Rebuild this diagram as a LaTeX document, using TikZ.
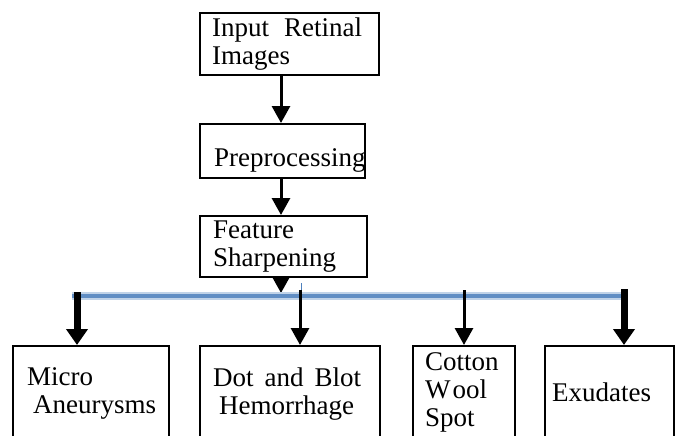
\documentclass[tikz,border=0pt]{standalone}
\usepackage{fontspec}
\setmainfont{Liberation Serif}
\usetikzlibrary{arrows.meta, positioning}
\definecolor{busBlue}{HTML}{4F81BD}

\begin{document}
\begin{tikzpicture}[x=1pt, y=-1pt,
    box/.style={draw, line width=1.8pt, rectangle, inner sep=0pt, anchor=north west},
    txt/.style={anchor=north west, inner sep=0pt, align=left,
      font=\fontsize{27}{28}\selectfont},
    thin arrow/.style={line width=3pt, -{Triangle[width=18pt, length=17pt]}},
    thick arrow/.style={line width=7pt, -{Triangle[width=21pt, length=16pt]}}]
    \clip (0,0) rectangle (675,436);
    % upper chain
    \node[box, minimum width=179pt, minimum height=62pt] (inp) at (199,12) {};
    \node[box, minimum width=165pt, minimum height=54pt] (pre) at (199,123) {};
    \node[box, minimum width=167pt, minimum height=61pt] (fea) at (199,215) {};
    \node[txt] (inpT) at (212,18) {Input\hspace{15pt}Retinal\\Images};
    \node[txt] (preT) at (214,148) {Preprocessing};
    \node[txt] (feaT) at (213,221) {Feature\\Sharpening};
    \draw[thin arrow] (inp.south -| 281,0) -- (pre.north -| 281,0);
    \draw[thin arrow] (pre.south -| 281,0) -- (fea.north -| 281,0);
    \coordinate (tip) at (281,293);
    \draw[thin arrow] (fea.south -| 281,0) -- (tip);
    % bus
    \coordinate (busL) at (72,296);
    \coordinate (busR) at (627,296);
    \draw[busBlue!35, line width=8pt] (busL) -- (busR);
    \draw[busBlue!90, line width=4pt] (busL) -- (busR);
    \draw[busBlue, line width=1pt] (301,283) -- (301,296);
    % lower boxes
    \foreach \n/\x/\w in {mic/12/156, dot/199/180, cot/412/102, exu/544/129}
      \node[box, minimum width=\w pt, minimum height=110pt] (\n) at (\x,345) {};
    \node[txt] (micT) at (27,367) {Micro\\\hspace{6pt}Aneurysms};
    \node[txt] (dotT) at (213,368) {Dot\hspace{11pt}and\hspace{11pt}Blot\\\hspace{6pt}Hemorrhage};
    \node[txt] (cotT) at (425,352) {Cotton\\W\hspace{2pt}ool\\Spot};
    \node[txt] (exuT) at (552,383) {Exudates};
    \draw[thick arrow] (77,292) -- (mic.north -| 77,0);
    \draw[thin arrow] (300,290) -- (dot.north -| 300,0);
    \draw[thin arrow] (464,290) -- (cot.north -| 464,0);
    \draw[thick arrow] (624,289) -- (exu.north -| 624,0);
  \end{tikzpicture}
\end{document}
